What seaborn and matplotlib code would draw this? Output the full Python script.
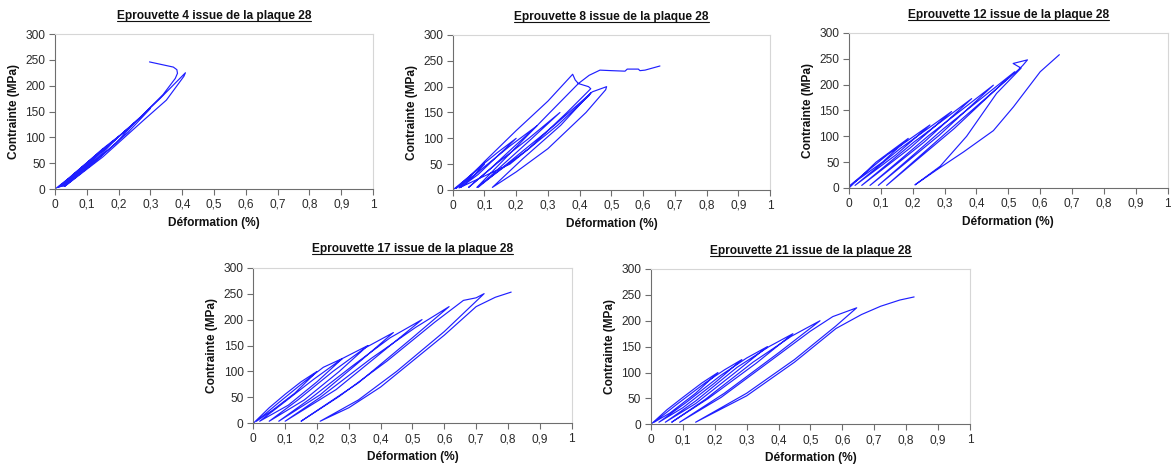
import matplotlib
matplotlib.use("Agg")
import matplotlib.pyplot as plt
import seaborn as sns
from matplotlib.lines import Line2D

# ==============================
# DONNEES
# ==============================

# Eprouvette 4
e4_x = [0, 0.05, 0.10, 0.07, 0.03, 0.01, 0.06, 0.11, 0.15, 0.11, 0.05, 0.015,
        0.08, 0.15, 0.20, 0.15, 0.08, 0.02, 0.10, 0.20, 0.25, 0.19, 0.10, 0.025,
        0.12, 0.22, 0.30, 0.23, 0.12, 0.03, 0.14, 0.25, 0.33, 0.41, 0.405, 0.35,
        0.28, 0.15, 0.03, 0.14, 0.27, 0.34, 0.378, 0.385, 0.383, 0.372, 0.297]
e4_y = [0, 24, 50, 30, 10, 3, 30, 56, 77, 50, 18, 4,
        40, 78, 102, 70, 30, 5, 50, 101, 128, 88, 40, 5,
        60, 112, 156, 110, 50, 5, 70, 128, 175, 225, 218, 172,
        134, 62, 5, 68, 140, 183, 214, 224, 231, 236, 246]

# Eprouvette 8
e8_x = [0, 0.05, 0.10, 0.07, 0.03, 0.01, 0.08, 0.14, 0.20, 0.14, 0.08, 0.025,
        0.10, 0.18, 0.265, 0.19, 0.12, 0.05, 0.14, 0.24, 0.338, 0.25, 0.16, 0.08,
        0.20, 0.32, 0.44, 0.485, 0.482, 0.42, 0.30, 0.20, 0.125, 0.22, 0.34, 0.435,
        0.43, 0.33, 0.18, 0.02, 0.10, 0.20, 0.30, 0.378, 0.386, 0.396, 0.428, 0.435,
        0.36, 0.24, 0.076, 0.20, 0.30, 0.396, 0.43, 0.464, 0.50, 0.543, 0.55, 0.585,
        0.59, 0.606, 0.653]
e8_y = [0, 25, 50, 30, 12, 3, 42, 72, 100, 65, 30, 5,
        45, 85, 124, 82, 42, 5, 52, 100, 150, 100, 50, 5,
        65, 125, 190, 200, 194, 150, 80, 35, 5, 60, 125, 188,
        183, 125, 50, 4, 55, 115, 172, 224, 213, 206, 200, 196,
        150, 80, 5, 83, 146, 206, 222, 232, 231, 230, 234, 234,
        231, 232, 240]

# Eprouvette 12
e12_x = [0, 0.085, 0.186, 0.105, 0.003, 0.12, 0.254, 0.147, 0.019, 0.162, 0.322,
         0.191, 0.04, 0.204, 0.385, 0.236, 0.066, 0.251, 0.453, 0.283, 0.092,
         0.297, 0.52, 0.33, 0.118, 0.32, 0.53, 0.545, 0.56, 0.515, 0.54, 0.463,
         0.369, 0.286, 0.207, 0.275, 0.36, 0.453, 0.516, 0.60, 0.66]
e12_y = [0, 50, 96, 50, 5, 64, 122, 64, 5, 77, 148,
         77, 5, 89, 173, 89, 5, 102, 199, 102, 5,
         115, 225, 115, 5, 115, 228, 237, 248, 241, 232, 183,
         100, 42, 6, 35, 70, 111, 157, 225, 258]

# Eprouvette 17
e17_x = [0, 0.05, 0.10, 0.15, 0.20, 0.13, 0.06, 0.01,
         0.08, 0.16, 0.22, 0.28, 0.20, 0.11, 0.02,
         0.10, 0.19, 0.28, 0.36, 0.27, 0.16, 0.05,
         0.14, 0.25, 0.35, 0.44, 0.34, 0.21, 0.08,
         0.18, 0.31, 0.43, 0.53, 0.42, 0.26, 0.10,
         0.21, 0.37, 0.51, 0.615, 0.50, 0.33, 0.15,
         0.27, 0.42, 0.57, 0.66, 0.70, 0.725, 0.60, 0.45, 0.33, 0.21,
         0.30, 0.40, 0.50, 0.60, 0.70, 0.76, 0.81]
e17_y = [0, 30, 56, 80, 100, 58, 25, 4,
         40, 80, 108, 125, 80, 35, 4,
         42, 85, 125, 150, 100, 45, 4,
         45, 100, 145, 175, 122, 55, 4,
         48, 110, 165, 200, 145, 65, 4,
         50, 125, 185, 225, 165, 78, 4,
         52, 120, 195, 237, 242, 250, 177, 100, 45, 4,
         30, 70, 120, 170, 225, 243, 253]

# Eprouvette 21
e21_x = [0, 0.05, 0.10, 0.16, 0.21, 0.14, 0.06, 0.01,
         0.08, 0.17, 0.23, 0.285, 0.20, 0.10, 0.025,
         0.11, 0.22, 0.30, 0.365, 0.26, 0.14, 0.045,
         0.14, 0.27, 0.37, 0.445, 0.33, 0.18, 0.065,
         0.17, 0.32, 0.44, 0.53, 0.40, 0.23, 0.09,
         0.22, 0.38, 0.50, 0.57, 0.645, 0.58, 0.45, 0.30, 0.14,
         0.30, 0.45, 0.58, 0.66, 0.72, 0.78, 0.825]
e21_y = [0, 28, 52, 80, 100, 60, 22, 4,
         38, 80, 105, 125, 80, 32, 4,
         42, 95, 128, 150, 98, 40, 4,
         45, 110, 150, 175, 118, 50, 4,
         48, 120, 170, 200, 138, 60, 4,
         52, 125, 180, 208, 225, 190, 125, 60, 4,
         55, 120, 185, 212, 228, 240, 246]

XTICKS = [0, 0.1, 0.2, 0.3, 0.4, 0.5, 0.6, 0.7, 0.8, 0.9, 1]
XTICK_LABELS = ["0", "0,1", "0,2", "0,3", "0,4", "0,5", "0,6", "0,7", "0,8", "0,9", "1"]
YTICKS = [0, 50, 100, 150, 200, 250, 300]

# ==============================
# STYLE
# ==============================

sns.set_theme(style="ticks")
plt.rcParams["font.family"] = ["Liberation Sans", "DejaVu Sans"]

LINE_COLOR = "#1f1fff"
AXIS_COLOR = "#6e6e6e"
FRAME_COLOR = "#d6d6d6"

panels = [
    (e4_x, e4_y, "Eprouvette 4 issue de la plaque 28", [0.0470, 0.5944, 0.2716, 0.3326]),
    (e8_x, e8_y, "Eprouvette 8 issue de la plaque 28", [0.3866, 0.5923, 0.2710, 0.3326]),
    (e12_x, e12_y, "Eprouvette 12 issue de la plaque 28", [0.7250, 0.5966, 0.2722, 0.3326]),
    (e17_x, e17_y, "Eprouvette 17 issue de la plaque 28", [0.2163, 0.0916, 0.2719, 0.3339]),
    (e21_x, e21_y, "Eprouvette 21 issue de la plaque 28", [0.5559, 0.0895, 0.2724, 0.3333]),
]

fig = plt.figure(figsize=(11.71, 4.66), dpi=100)

titles = []
for xs, ys, titre, pos in panels:
    ax = fig.add_axes(pos)
    sns.lineplot(x=xs, y=ys, sort=False, estimator=None, ax=ax,
                 color=LINE_COLOR, linewidth=0.85)
    ax.set_xlim(0, 1)
    ax.set_ylim(0, 300)
    ax.set_xticks(XTICKS)
    ax.set_xticklabels(XTICK_LABELS)
    ax.set_yticks(YTICKS)
    ax.tick_params(direction="out", length=4, width=0.8, color=AXIS_COLOR,
                   labelsize=8.6, labelcolor="#2a2a2a", pad=3)
    for side in ["left", "bottom"]:
        ax.spines[side].set_color(AXIS_COLOR)
        ax.spines[side].set_linewidth(0.8)
    for side in ["top", "right"]:
        ax.spines[side].set_visible(True)
        ax.spines[side].set_color(FRAME_COLOR)
        ax.spines[side].set_linewidth(0.8)

    ax.set_xlabel("Déformation (%)", fontsize=8.6, fontweight="bold", color="#111111")
    ax.set_ylabel("Contrainte (MPa)", fontsize=8.6, fontweight="bold", color="#111111")
    ax.xaxis.set_label_coords(0.5, -0.18)
    ax.yaxis.set_label_coords(-0.11, 0.5)
    t = ax.set_title(titre, fontsize=8.6, fontweight="bold", color="#111111", pad=11)
    titles.append(t)

# soulignement des titres
fig.canvas.draw()
renderer = fig.canvas.get_renderer()
W, H = fig.bbox.width, fig.bbox.height
for t in titles:
    bb = t.get_window_extent(renderer)
    base = t.get_transform().transform(t.get_position())[1]
    y = (base - 2) / H
    fig.add_artist(Line2D([bb.x0 / W, bb.x1 / W], [y, y], color="#111111", linewidth=0.8))

fig.savefig("out.png", dpi=100)
